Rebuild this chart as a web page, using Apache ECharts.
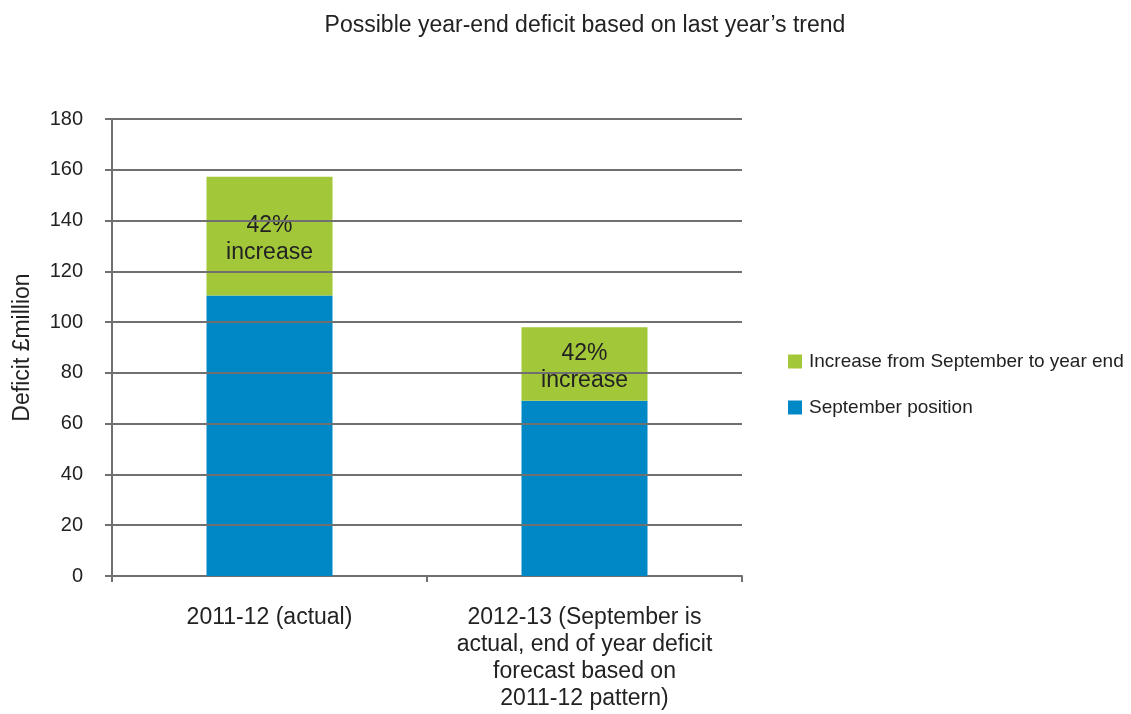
<!DOCTYPE html>
<html>
<head>
<meta charset="utf-8">
<script src="https://cdn.jsdelivr.net/npm/echarts@6/dist/echarts.min.js"></script>
<style>
  html, body { margin: 0; padding: 0; background: #ffffff; }
  #chart { width: 1131px; height: 714px; }
</style>
</head>
<body>
<div id="chart"></div>
<script>
// Deficit in £ million, split into September position and the rise to year end
const categories = [
  '2011-12 (actual)',
  '2012-13 (September is\nactual, end of year deficit\nforecast based on\n2011-12 pattern)'
];
const septemberPosition = [110.5, 69];
const increaseToYearEnd = [46.8, 29];
const increaseLabels = ['42%\nincrease', '42%\nincrease'];
// Value-axis ticks; the horizontal rules are drawn at these values, over the bars
const yTicks = [20, 40, 60, 80, 100, 120, 140, 160, 180];

const FONT = '"Liberation Sans", Arial, sans-serif';
const TEXT = '#222222';
const RULE = '#707070';
const chart = echarts.init(document.getElementById('chart'));

chart.setOption({
  backgroundColor: '#ffffff',
  animation: false,
  textStyle: { fontFamily: FONT },
  title: {
    text: 'Possible year-end deficit based on last year\u2019s trend',
    left: 580,
    textAlign: 'center',
    top: 9,
    textStyle: { fontFamily: FONT, fontSize: 23, fontWeight: 'normal', color: TEXT }
  },
  legend: {
    orient: 'vertical',
    left: 788,
    top: 352,
    padding: 0,
    itemWidth: 14,
    itemHeight: 14,
    itemGap: 27,
    icon: 'rect',
    textStyle: { fontFamily: FONT, fontSize: 19, color: TEXT, padding: [0, 0, 0, 2] },
    data: ['Increase from September to year end', 'September position']
  },
  grid: { left: 112, right: 389, top: 119, bottom: 138, containLabel: false },
  xAxis: {
    type: 'category',
    data: categories,
    axisLine: { lineStyle: { color: RULE, width: 2 } },
    axisTick: { show: true, length: 6, lineStyle: { color: RULE, width: 2 } },
    axisLabel: {
      interval: 0,
      margin: 28,
      fontFamily: FONT,
      fontSize: 23,
      color: TEXT,
      lineHeight: 27
    }
  },
  yAxis: {
    type: 'value',
    min: 0,
    max: 180,
    interval: 20,
    name: 'Deficit \u00a3million',
    nameLocation: 'middle',
    nameGap: 78,
    nameRotate: 90,
    nameTextStyle: { fontFamily: FONT, fontSize: 23, color: TEXT },
    axisLine: { show: true, lineStyle: { color: RULE, width: 2 } },
    axisTick: { show: true, length: 7, lineStyle: { color: RULE, width: 2 } },
    axisLabel: { margin: 29, fontFamily: FONT, fontSize: 20, color: TEXT },
    splitLine: { show: false }
  },
  series: [
    {
      name: 'September position',
      type: 'bar',
      stack: 'deficit',
      barWidth: '40%',
      itemStyle: { color: '#0088C6' },
      data: septemberPosition
    },
    {
      name: 'Increase from September to year end',
      type: 'bar',
      stack: 'deficit',
      barWidth: '40%',
      itemStyle: { color: '#A2C739' },
      label: {
        show: true,
        position: 'inside',
        offset: [0, 3],
        fontFamily: FONT,
        fontSize: 23,
        lineHeight: 27,
        color: TEXT,
        formatter: (p) => increaseLabels[p.dataIndex]
      },
      markLine: {
        silent: true,
        symbol: ['none', 'none'],
        label: { show: false },
        lineStyle: { type: 'solid', color: RULE, width: 2 },
        emphasis: { disabled: true },
        data: yTicks.map((v) => ({ yAxis: v }))
      },
      data: increaseToYearEnd
    }
  ]
});
</script>
</body>
</html>
